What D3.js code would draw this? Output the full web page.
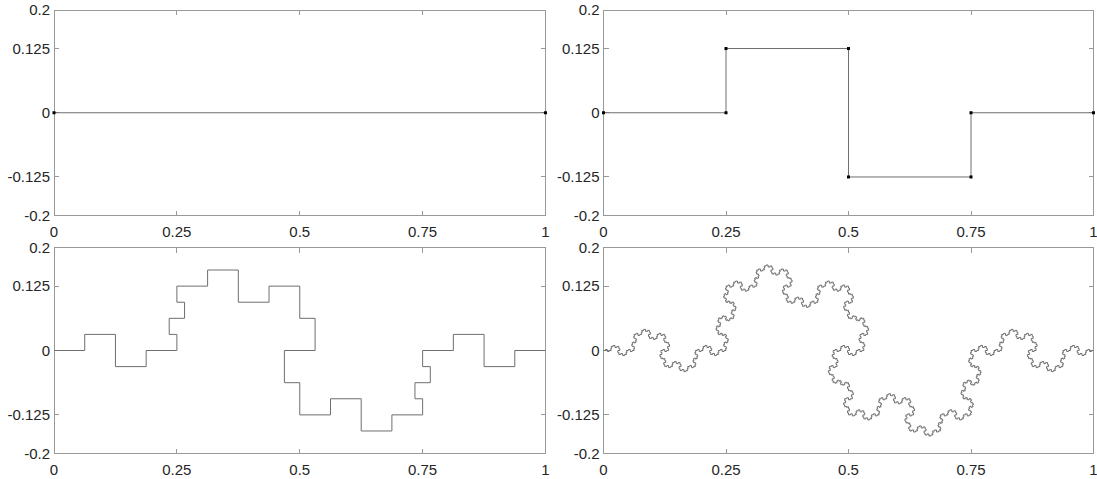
<!DOCTYPE html>
<html>
<head>
<meta charset="utf-8">
<script src="https://cdn.jsdelivr.net/npm/d3@7"></script>
<style>
  html, body { margin: 0; padding: 0; background: #fff; }
  svg { display: block; }
  text { font-family: "Liberation Sans", Arial, Helvetica, sans-serif; font-size: 15px; fill: #262626; }
</style>
</head>
<body>
<svg id="chart" width="1097" height="479"></svg>
<script>
// ---- data ----
const xTicks = [0, 0.25, 0.5, 0.75, 1];
const xTickLabels = ["0", "0.25", "0.5", "0.75", "1"];
const yTicks = [-0.2, -0.125, 0, 0.125, 0.2];
const yTickLabels = ["-0.2", "-0.125", "0", "0.125", "0.2"];
const xDomain = [0, 1];
const yDomain = [-0.2, 0.2];
// initiator (level 0) and generator (level 1) vertices
const initiatorX = [0, 1];
const initiatorY = [0, 0];
const generatorX = [0, 0.25, 0.25, 0.5, 0.5, 0.75, 0.75, 1];
const generatorY = [0, 0, 0.125, 0.125, -0.125, -0.125, 0, 0];
// iteration level shown in each panel (TL, TR, BL, BR)
const panelLevels = [0, 1, 2, 4];
const panelMarkers = [true, true, false, false];

// ---- curve construction: replace each segment with the generator ----
function iterate(pts) {
  const out = [pts[0]];
  for (let i = 0; i < pts.length - 1; i++) {
    const [px, py] = pts[i], [qx, qy] = pts[i + 1];
    const dx = qx - px, dy = qy - py;
    const nx = -dy, ny = dx;
    for (let k = 1; k < generatorX.length; k++) {
      const u = generatorX[k], v = generatorY[k];
      out.push([px + u * dx + v * nx, py + u * dy + v * ny]);
    }
  }
  return out;
}
function curve(level) {
  let pts = initiatorX.map((x, i) => [x, initiatorY[i]]);
  for (let l = 0; l < level; l++) pts = iterate(pts);
  return pts;
}

// ---- layout ----
const panels = [
  { x0: 54, x1: 545.5, y0: 10, y1: 215.5 },
  { x0: 603.5, x1: 1093.5, y0: 10, y1: 215.5 },
  { x0: 54, x1: 545.5, y0: 247.5, y1: 453.5 },
  { x0: 603.5, x1: 1093.5, y0: 247.5, y1: 453.5 }
];
const svg = d3.select("#chart");
const axisColor = "#999";
const tickLen = 5;

panels.forEach((p, i) => {
  const x = d3.scaleLinear().domain(xDomain).range([p.x0, p.x1]);
  const y = d3.scaleLinear().domain(yDomain).range([p.y1, p.y0]);
  const g = svg.append("g");

  // box
  g.append("rect")
    .attr("x", p.x0).attr("y", p.y0)
    .attr("width", p.x1 - p.x0).attr("height", p.y1 - p.y0)
    .attr("fill", "none").attr("stroke", axisColor).attr("stroke-width", 1)
    .attr("shape-rendering", "crispEdges");

  // ticks (inward, mirrored)
  const tg = g.append("g").attr("stroke", axisColor).attr("shape-rendering", "crispEdges");
  xTicks.forEach(t => {
    tg.append("line").attr("x1", x(t)).attr("x2", x(t)).attr("y1", p.y1).attr("y2", p.y1 - tickLen);
    tg.append("line").attr("x1", x(t)).attr("x2", x(t)).attr("y1", p.y0).attr("y2", p.y0 + tickLen);
  });
  yTicks.forEach(t => {
    tg.append("line").attr("y1", y(t)).attr("y2", y(t)).attr("x1", p.x0).attr("x2", p.x0 + tickLen);
    tg.append("line").attr("y1", y(t)).attr("y2", y(t)).attr("x1", p.x1).attr("x2", p.x1 - tickLen);
  });

  // tick labels
  xTicks.forEach((t, k) => {
    g.append("text").attr("x", x(t)).attr("y", p.y1 + 21.5)
      .attr("text-anchor", "middle").text(xTickLabels[k]);
  });
  yTicks.forEach((t, k) => {
    g.append("text").attr("x", p.x0 - 4).attr("y", y(t) + 5.3)
      .attr("text-anchor", "end").text(yTickLabels[k]);
  });

  // curve
  const pts = curve(panelLevels[i]);
  const line = d3.line().x(d => x(d[0])).y(d => y(d[1]));
  g.append("path").attr("d", line(pts))
    .attr("fill", "none").attr("stroke", "#6e6e6e").attr("stroke-width", 1)
    .attr("stroke-linejoin", "miter");

  if (panelMarkers[i]) {
    g.selectAll("rect.m").data(pts).enter().append("rect")
      .attr("class", "m")
      .attr("x", d => x(d[0]) - 1.5).attr("y", d => y(d[1]) - 1.5)
      .attr("width", 3).attr("height", 3).attr("fill", "#000");
  }
});
</script>
</body>
</html>
